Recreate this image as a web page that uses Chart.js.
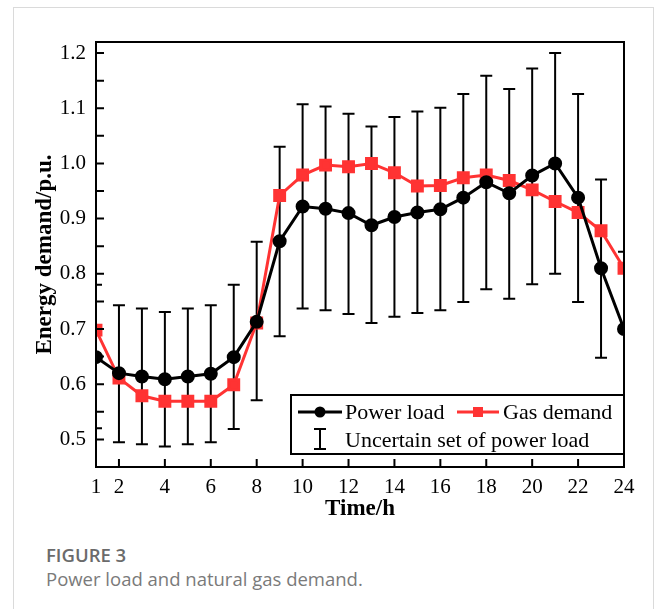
<!DOCTYPE html>
<html>
<head>
<meta charset="utf-8">
<script src="https://cdn.jsdelivr.net/npm/chart.js@4.4.0/dist/chart.umd.min.js"></script>
<style>
  html, body { margin: 0; padding: 0; background: #fff; }
  body { width: 658px; height: 609px; position: relative; overflow: hidden; }
  #card { position: absolute; left: 13px; top: 7px; width: 641px; height: 640px; border: 1px solid #dadada; box-sizing: border-box; }
  #wrap { position: absolute; left: 0; top: 0; width: 658px; height: 540px; }
  .cap { position: absolute; left: 46px; font-family: "Open Sans", sans-serif; line-height: 22px; white-space: nowrap; }
  #figno { top: 544px; font-size: 18.5px; font-weight: 600; color: #6b6b6b; }
  #figtext { top: 568px; font-size: 18.5px; color: #7a7a7a; }
</style>
</head>
<body>
<div id="card"></div>
<div id="wrap"><canvas id="energyChart" width="658" height="540"></canvas></div>
<div class="cap" id="figno">FIGURE 3</div>
<div class="cap" id="figtext">Power load and natural gas demand.</div>
<script>
var hours = [1, 2, 3, 4, 5, 6, 7, 8, 9, 10, 11, 12, 13, 14, 15, 16, 17, 18, 19, 20, 21, 22, 23, 24];
var powerLoad = [0.649, 0.62, 0.614, 0.609, 0.614, 0.619, 0.649, 0.713, 0.859, 0.922, 0.918, 0.91, 0.888, 0.903, 0.911, 0.917, 0.938, 0.966, 0.946, 0.978, 1.0, 0.938, 0.81, 0.70];
var gasDemand = [0.698, 0.611, 0.579, 0.569, 0.569, 0.569, 0.599, 0.711, 0.942, 0.979, 0.997, 0.994, 1.0, 0.983, 0.959, 0.96, 0.974, 0.979, 0.969, 0.952, 0.931, 0.911, 0.878, 0.81];
var loadUpper = [0.78, 0.743, 0.737, 0.731, 0.737, 0.743, 0.78, 0.858, 1.03, 1.107, 1.103, 1.09, 1.067, 1.084, 1.094, 1.101, 1.126, 1.159, 1.135, 1.172, 1.2, 1.126, 0.971, 0.84];
var loadLower = [0.52, 0.495, 0.491, 0.487, 0.491, 0.495, 0.519, 0.571, 0.687, 0.737, 0.734, 0.727, 0.711, 0.722, 0.729, 0.734, 0.749, 0.772, 0.755, 0.781, 0.80, 0.749, 0.648, 0.56];
var xTickValues = [1, 2, 4, 6, 8, 10, 12, 14, 16, 18, 20, 22, 24];
var seriesNames = ["Power load", "Gas demand", "Uncertain set of power load"];

var serif = "'Liberation Serif', 'Times New Roman', serif";
var red = "#ff3333";

function toPoints(vals) {
  return hours.map(function (h, i) { return { x: h, y: vals[i] }; });
}

// error bars, drawn under the lines
var errorBars = {
  id: "errorBars",
  beforeDatasetsDraw: function (chart) {
    var ctx = chart.ctx, xs = chart.scales.x, ys = chart.scales.y, a = chart.chartArea;
    ctx.save();
    ctx.beginPath();
    ctx.rect(a.left, a.top, a.right - a.left, a.bottom - a.top);
    ctx.clip();
    ctx.strokeStyle = "#000";
    ctx.lineWidth = 2;
    hours.forEach(function (h, i) {
      var x = xs.getPixelForValue(h);
      var y1 = ys.getPixelForValue(loadUpper[i]);
      var y2 = ys.getPixelForValue(loadLower[i]);
      ctx.beginPath();
      ctx.moveTo(x, y1); ctx.lineTo(x, y2);
      ctx.moveTo(x - 6, y1); ctx.lineTo(x + 6, y1);
      ctx.moveTo(x - 6, y2); ctx.lineTo(x + 6, y2);
      ctx.stroke();
    });
    ctx.restore();
  }
};

// frame, inward ticks and the boxed legend
var frameAndLegend = {
  id: "frameAndLegend",
  afterDraw: function (chart) {
    var ctx = chart.ctx, xs = chart.scales.x, ys = chart.scales.y, a = chart.chartArea;
    ctx.save();
    ctx.strokeStyle = "#000";
    ctx.lineWidth = 2;
    ctx.beginPath();
    ys.ticks.forEach(function (t) {
      var y = ys.getPixelForValue(t.value);
      ctx.moveTo(a.left, y); ctx.lineTo(a.left + 8, y);
    });
    xs.ticks.forEach(function (t) {
      var x = xs.getPixelForValue(t.value);
      ctx.moveTo(x, a.bottom); ctx.lineTo(x, a.bottom - 8);
    });
    ctx.stroke();
    ctx.strokeRect(a.left, a.top, a.right - a.left, a.bottom - a.top);

    // legend
    var lx = 291, ly = 395, lw = a.right - 291, lh = 59;
    ctx.fillStyle = "#fff";
    ctx.fillRect(lx, ly, lw, lh);
    ctx.strokeRect(lx, ly, lw, lh);
    var r1 = 412, r2 = 440;
    ctx.lineWidth = 3;
    ctx.beginPath(); ctx.moveTo(298, r1); ctx.lineTo(342, r1); ctx.stroke();
    ctx.fillStyle = "#000";
    ctx.beginPath(); ctx.arc(320, r1, 5.5, 0, Math.PI * 2); ctx.fill();
    ctx.strokeStyle = red;
    ctx.beginPath(); ctx.moveTo(457, r1); ctx.lineTo(499, r1); ctx.stroke();
    ctx.fillStyle = red;
    ctx.fillRect(473, r1 - 5, 10, 10);
    ctx.strokeStyle = "#000";
    ctx.lineWidth = 2;
    ctx.beginPath();
    ctx.moveTo(320, 429); ctx.lineTo(320, 449);
    ctx.moveTo(314, 429); ctx.lineTo(326, 429);
    ctx.moveTo(314, 449); ctx.lineTo(326, 449);
    ctx.stroke();
    ctx.fillStyle = "#000";
    ctx.font = "22px " + serif;
    ctx.textBaseline = "middle";
    ctx.fillText(seriesNames[0], 345, r1 + 1);
    ctx.fillText(seriesNames[1], 503, r1 + 1);
    ctx.fillText(seriesNames[2], 345, r2 + 1);
    ctx.restore();
  }
};

var ctx = document.getElementById("energyChart").getContext("2d");
var myChart = new Chart(ctx, {
  type: "line",
  data: {
    datasets: [
      {
        label: seriesNames[0],
        data: toPoints(powerLoad),
        borderColor: "#000",
        backgroundColor: "#000",
        borderWidth: 3,
        pointRadius: 5.5,
        pointStyle: "circle",
        clip: 0,
        order: 1
      },
      {
        label: seriesNames[1],
        data: toPoints(gasDemand),
        borderColor: red,
        backgroundColor: red,
        borderWidth: 3,
        pointRadius: 7,
        pointStyle: "rect",
        clip: 0,
        order: 2
      }
    ]
  },
  options: {
    responsive: false,
    animation: false,
    events: [],
    layout: { padding: { top: 42, right: 34, left: 0, bottom: 0 } },
    plugins: { legend: { display: false }, tooltip: { enabled: false } },
    scales: {
      x: {
        type: "linear",
        min: 1,
        max: 24,
        grid: { display: false, drawTicks: false },
        border: { display: false },
        afterBuildTicks: function (scale) {
          scale.ticks = xTickValues.map(function (v) { return { value: v }; });
        },
        afterFit: function (scale) { scale.height = 73; },
        ticks: {
          autoSkip: false,
          maxRotation: 0,
          padding: 8,
          color: "#000",
          font: { family: serif, size: 21 },
          callback: function (v) { return String(v); }
        },
        title: {
          display: true,
          text: "Time/h",
          color: "#000",
          font: { family: serif, size: 23, weight: "bold" },
          padding: { top: 0, bottom: 17 }
        }
      },
      y: {
        min: 0.45,
        max: 1.22,
        grid: { display: false, drawTicks: false },
        border: { display: false },
        afterFit: function (scale) { scale.width = 96; },
        ticks: {
          stepSize: 0.05,
          includeBounds: false,
          autoSkip: false,
          padding: 10,
          color: "#000",
          font: { family: serif, size: 21 },
          callback: function (v) {
            var t = v * 10;
            return Math.abs(t - Math.round(t)) < 1e-6 ? v.toFixed(1) : "";
          }
        },
        title: {
          display: true,
          text: "Energy demand/p.u.",
          color: "#000",
          font: { family: serif, size: 23, weight: "bold" },
          padding: { top: 31, bottom: 0 }
        }
      }
    }
  },
  plugins: [errorBars, frameAndLegend]
});
</script>
</body>
</html>
